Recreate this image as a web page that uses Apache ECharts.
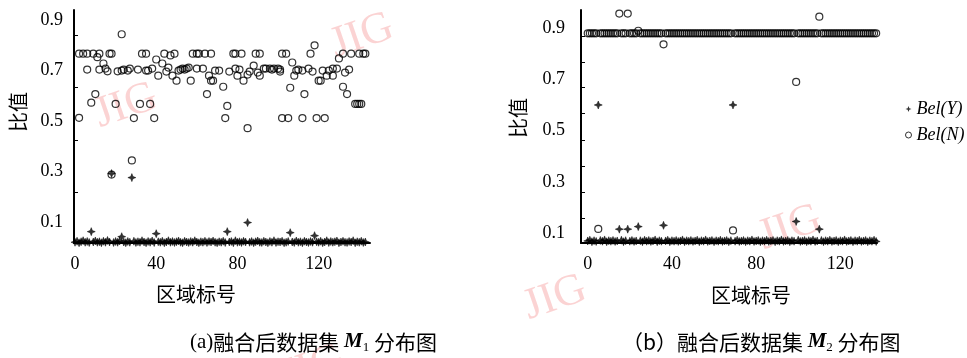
<!DOCTYPE html>
<html><head><meta charset="utf-8">
<script src="https://cdn.jsdelivr.net/npm/echarts@6/dist/echarts.min.js"></script>
<style>html,body{margin:0;padding:0;background:#fff}#c{width:967px;height:358px}</style>
</head><body><div id="c"></div>
<script>
// ---- data ----
const xTickLabels = [0, 40, 80, 120];
const yTickLabels = [0.1, 0.3, 0.5, 0.7, 0.9];
const seriesNames = ['Bel(Y)', 'Bel(N)'];

// M1: Bel(Y) for regions 0..143
const m1BelY = [
  0.020,0.024,0.018,0.022,0.026,0.020,0.023,0.019,0.062,0.021,0.025,0.020,
  0.022,0.018,0.024,0.020,0.027,0.021,0.292,0.019,0.023,0.020,0.025,0.042,
  0.021,0.018,0.023,0.020,0.276,0.024,0.019,0.022,0.020,0.026,0.021,0.018,
  0.023,0.020,0.025,0.019,0.054,0.022,0.020,0.024,0.018,0.021,0.026,0.020,
  0.023,0.019,0.022,0.025,0.020,0.018,0.024,0.021,0.019,0.023,0.020,0.026,
  0.021,0.018,0.022,0.020,0.024,0.019,0.023,0.021,0.025,0.020,0.018,0.022,
  0.020,0.024,0.019,0.062,0.021,0.023,0.018,0.026,0.020,0.022,0.019,0.024,
  0.021,0.098,0.020,0.023,0.018,0.022,0.025,0.020,0.019,0.024,0.021,0.018,
  0.023,0.020,0.026,0.019,0.022,0.021,0.024,0.018,0.020,0.023,0.058,0.021,
  0.019,0.025,0.020,0.022,0.018,0.024,0.021,0.019,0.023,0.020,0.046,0.022,
  0.020,0.024,0.018,0.021,0.026,0.019,0.023,0.020,0.022,0.025,0.018,0.021,
  0.024,0.020,0.019,0.023,0.021,0.026,0.018,0.022,0.020,0.024,0.019,0.021
];
// M1: Bel(N) points (region, value)
const m1NRegion = [
  2,2,4,6,6,8,9,10,11,12,
  12,14,15,16,17,18,18,20,21,23,
  23,24,26,27,28,29,31,32,33,35,
  35,36,37,38,39,40,41,43,44,45,
  46,47,48,49,50,51,52,53,54,55,
  56,57,58,60,60,61,63,64,65,66,
  67,67,68,69,71,73,74,75,76,78,
  79,79,80,81,82,83,85,85,86,88,
  89,90,91,91,93,94,96,97,98,100,
  101,101,102,102,104,105,106,107,108,109,
  110,112,112,113,115,116,117,118,119,120,
  121,122,123,124,125,127,127,129,130,132,
  132,133,134,135,136,138,139,140,141,140,
  142,143
];
const m1NValue = [
  0.513,0.767,0.767,0.767,0.704,0.573,0.767,0.607,0.753,0.767,
  0.704,0.728,0.708,0.697,0.767,0.767,0.288,0.568,0.697,0.700,
  0.844,0.704,0.700,0.708,0.344,0.512,0.704,0.568,0.767,0.767,
  0.700,0.700,0.568,0.708,0.512,0.744,0.680,0.728,0.767,0.696,
  0.712,0.760,0.680,0.767,0.660,0.700,0.704,0.708,0.704,0.708,
  0.712,0.660,0.767,0.767,0.708,0.767,0.708,0.767,0.607,0.680,
  0.767,0.660,0.660,0.700,0.700,0.636,0.512,0.560,0.696,0.767,
  0.767,0.708,0.680,0.704,0.767,0.660,0.472,0.684,0.696,0.720,
  0.767,0.692,0.767,0.680,0.708,0.708,0.708,0.704,0.708,0.708,
  0.704,0.696,0.767,0.512,0.767,0.512,0.632,0.732,0.680,0.700,
  0.704,0.700,0.512,0.607,0.708,0.767,0.696,0.800,0.512,0.660,
  0.660,0.700,0.512,0.680,0.700,0.680,0.708,0.708,0.748,0.636,
  0.767,0.692,0.607,0.704,0.767,0.568,0.568,0.568,0.568,0.767,
  0.767,0.767
];
// M2: Bel(Y) and Bel(N) for regions 0..137
const m2BelY = [
  0.069,0.072,0.066,0.070,0.067,0.600,0.071,0.068,0.073,0.066,0.070,0.068,
  0.071,0.067,0.069,0.115,0.072,0.066,0.070,0.115,0.068,0.071,0.067,0.069,
  0.125,0.070,0.066,0.072,0.068,0.071,0.067,0.069,0.073,0.066,0.070,0.068,
  0.130,0.069,0.072,0.066,0.070,0.068,0.071,0.067,0.069,0.073,0.066,0.070,
  0.068,0.071,0.067,0.069,0.072,0.066,0.070,0.068,0.073,0.067,0.069,0.071,
  0.066,0.070,0.068,0.072,0.067,0.069,0.071,0.066,0.070,0.600,0.068,0.072,
  0.067,0.069,0.071,0.066,0.070,0.068,0.073,0.067,0.069,0.071,0.066,0.070,
  0.068,0.072,0.067,0.069,0.071,0.066,0.070,0.068,0.073,0.067,0.069,0.071,
  0.066,0.070,0.068,0.145,0.072,0.067,0.069,0.071,0.066,0.070,0.068,0.073,
  0.067,0.069,0.115,0.071,0.066,0.070,0.068,0.072,0.067,0.069,0.071,0.066,
  0.070,0.068,0.073,0.067,0.069,0.071,0.066,0.070,0.068,0.072,0.067,0.069,
  0.071,0.066,0.070,0.068,0.072,0.067
];
const m2BelN = [
  0.88,0.88,0.88,0.88,0.88,0.116,0.88,0.88,0.88,0.88,0.88,0.88,
  0.88,0.88,0.88,0.957,0.88,0.88,0.88,0.957,0.88,0.88,0.88,0.88,
  0.89,0.88,0.88,0.88,0.88,0.88,0.88,0.88,0.88,0.88,0.88,0.88,
  0.837,0.88,0.88,0.88,0.88,0.88,0.88,0.88,0.88,0.88,0.88,0.88,
  0.88,0.88,0.88,0.88,0.88,0.88,0.88,0.88,0.88,0.88,0.88,0.88,
  0.88,0.88,0.88,0.88,0.88,0.88,0.88,0.88,0.88,0.11,0.88,0.88,
  0.88,0.88,0.88,0.88,0.88,0.88,0.88,0.88,0.88,0.88,0.88,0.88,
  0.88,0.88,0.88,0.88,0.88,0.88,0.88,0.88,0.88,0.88,0.88,0.88,
  0.88,0.88,0.88,0.69,0.88,0.88,0.88,0.88,0.88,0.88,0.88,0.88,
  0.88,0.88,0.945,0.88,0.88,0.88,0.88,0.88,0.88,0.88,0.88,0.88,
  0.88,0.88,0.88,0.88,0.88,0.88,0.88,0.88,0.88,0.88,0.88,0.88,
  0.88,0.88,0.88,0.88,0.88,0.88
];

// ---- styling ----
const SERIF = "'Liberation Serif','DejaVu Serif',serif";
const CJK = "'Noto Sans CJK SC','Noto Sans CJK JP',sans-serif";
const STAR = 'path://M5,0 L6.4,3.6 L10,5 L6.4,6.4 L5,10 L3.6,6.4 L0,5 L3.6,3.6 Z';
const starStyle = { color: '#000', borderColor: '#000', borderWidth: 0.6 };
const circleStyle = { color: 'rgba(255,255,255,0)', borderColor: '#000', borderWidth: 1.2 };

function xAxis(gi, min, max) {
  return {
    type: 'value', gridIndex: gi, min: min, max: max,
    axisLine: { show: true, onZero: false, lineStyle: { color: '#000', width: 2 } },
    axisTick: { show: false },
    splitLine: { show: false },
    axisLabel: { customValues: xTickLabels, color: '#000', fontFamily: SERIF, fontSize: 18, margin: 12 }
  };
}
function yAxis(gi, min, max, ticks, margin) {
  return {
    type: 'value', gridIndex: gi, min: min, max: max,
    axisLine: { show: true, onZero: false, lineStyle: { color: '#000', width: 2 } },
    axisTick: { show: true, inside: true, length: 4, customValues: ticks, lineStyle: { color: '#000', width: 1 } },
    splitLine: { show: false },
    axisLabel: { customValues: yTickLabels, formatter: v => v.toFixed(1), color: '#000', fontFamily: SERIF, fontSize: 18, margin: margin }
  };
}

const chart = echarts.init(document.getElementById('c'), null, { renderer: 'canvas' });

function wm(x, y) {
  return { type: 'text', x: x, y: y, rotation: 0.33, z: 0, silent: true,
    style: { text: 'JIG', fontFamily: SERIF, fontSize: 44, fill: 'rgba(245,140,140,0.38)', align: 'center', verticalAlign: 'middle' } };
}

const option = {
  animation: false,
  backgroundColor: '#fff',
  grid: [
    { left: 74, top: 10, width: 296, height: 233 },
    { left: 581, top: 10, width: 296, height: 233 }
  ],
  xAxis: [ xAxis(0, -0.5, 145.3), xAxis(1, -3.2, 137.4) ],
  yAxis: [
    yAxis(0, 0.017, 0.94, [0.219, 0.425, 0.635, 0.841], 11),
    yAxis(1, 0.061, 0.971, [0.159, 0.261, 0.362, 0.463, 0.569, 0.671, 0.768, 0.87], 16)
  ],
  legend: {
    orient: 'vertical', left: 900, top: 95, itemGap: 8, itemWidth: 6, itemHeight: 6,
    textStyle: { fontFamily: SERIF, fontStyle: 'italic', fontSize: 18, lineHeight: 18, color: '#000' },
    data: [
      { name: seriesNames[0], icon: STAR, itemStyle: { color: '#000', borderWidth: 0 } },
      { name: seriesNames[1], icon: 'circle', itemStyle: { color: '#fff', borderColor: '#000', borderWidth: 1 } }
    ]
  },
  series: [
    { name: seriesNames[0], type: 'scatter', xAxisIndex: 0, yAxisIndex: 0, symbol: STAR, symbolSize: 8,
      itemStyle: starStyle, data: m1BelY.map((v, i) => [i, v]) },
    { name: seriesNames[1], type: 'scatter', xAxisIndex: 0, yAxisIndex: 0, symbol: 'circle', symbolSize: 7,
      itemStyle: circleStyle, data: m1NRegion.map((r, i) => [r, m1NValue[i]]) },
    { name: seriesNames[0], type: 'scatter', xAxisIndex: 1, yAxisIndex: 1, symbol: STAR, symbolSize: 8,
      itemStyle: starStyle, data: m2BelY.map((v, i) => [i, v]) },
    { name: seriesNames[1], type: 'scatter', xAxisIndex: 1, yAxisIndex: 1, symbol: 'circle', symbolSize: 7,
      itemStyle: circleStyle, data: m2BelN.map((v, i) => [i, v]) }
  ],
  graphic: [
    wm(362, 36), wm(126, 106), wm(790, 228), wm(555, 298), wm(312, 368),
    { type: 'text', x: 18, y: 112, rotation: Math.PI / 2, style: { text: '比值', font: "20px " + CJK, fill: '#000', align: 'center', verticalAlign: 'middle' } },
    { type: 'text', x: 518, y: 118, rotation: Math.PI / 2, style: { text: '比值', font: "20px " + CJK, fill: '#000', align: 'center', verticalAlign: 'middle' } },
    { type: 'text', x: 196, y: 294, style: { text: '区域标号', font: "20px " + CJK, fill: '#000', align: 'center', verticalAlign: 'middle' } },
    { type: 'text', x: 751, y: 295, style: { text: '区域标号', font: "20px " + CJK, fill: '#000', align: 'center', verticalAlign: 'middle' } },
    { type: 'text', x: 190, y: 342, style: {
        text: '{p|(a)}{c|融合后数据集 }{m|M}{s|1}{c| 分布图}', align: 'left', verticalAlign: 'middle',
        rich: {
          p: { fontFamily: SERIF, fontSize: 21, fill: '#000', lineHeight: 24 },
          c: { fontFamily: CJK, fontSize: 21, fill: '#000', lineHeight: 24 },
          m: { fontFamily: SERIF, fontSize: 21, fontWeight: 'bold', fontStyle: 'italic', fill: '#000', lineHeight: 24 },
          s: { fontFamily: SERIF, fontSize: 13, fill: '#000', lineHeight: 24, verticalAlign: 'bottom', padding: [8, 0, 0, 0] }
        } } },
    { type: 'text', x: 622, y: 342, style: {
        text: '{c|（b）融合后数据集 }{m|M}{s|2}{c| 分布图}', align: 'left', verticalAlign: 'middle',
        rich: {
          c: { fontFamily: CJK, fontSize: 21, fill: '#000', lineHeight: 24 },
          m: { fontFamily: SERIF, fontSize: 21, fontWeight: 'bold', fontStyle: 'italic', fill: '#000', lineHeight: 24 },
          s: { fontFamily: SERIF, fontSize: 13, fill: '#000', lineHeight: 24, verticalAlign: 'bottom', padding: [8, 0, 0, 0] }
        } } }
  ]
};
chart.setOption(option);
</script>
</body></html>
